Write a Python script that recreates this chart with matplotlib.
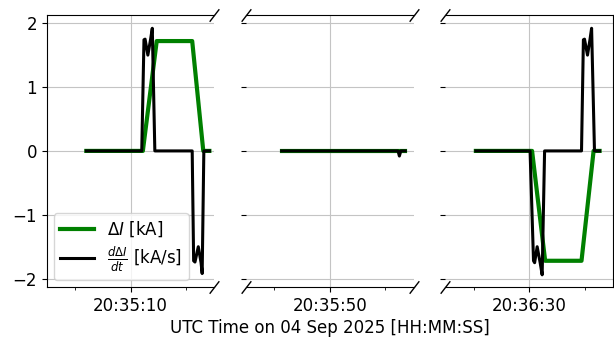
import pandas as pd
import numpy as np
import matplotlib
matplotlib.use('Agg')
import matplotlib.pyplot as plt
import matplotlib.dates as mdates

day = "2025-09-04 "

# panel centres (major ticks)
centers = ["20:35:10", "20:35:50", "20:36:30"]

# delta I [kA]
dI_t = [
    ["20:35:06.0", "20:35:11.1", "20:35:12.35", "20:35:15.55", "20:35:16.55", "20:35:17.1"],
    ["20:35:45.65", "20:35:56.8"],
    ["20:36:25.2", "20:36:30.27", "20:36:31.45", "20:36:34.73", "20:36:35.82", "20:36:36.36"],
]
dI_v = [
    [0, 0, 1.72, 1.72, 0, 0],
    [0, 0],
    [0, 0, -1.72, -1.72, 0, 0],
]

# d(delta I)/dt [kA/s]
dIdt_t = [
    ["20:35:06.0", "20:35:11.0", "20:35:11.2", "20:35:11.3", "20:35:11.55", "20:35:11.8", "20:35:11.95",
     "20:35:12.18", "20:35:15.55", "20:35:15.68", "20:35:15.8", "20:35:16.1", "20:35:16.35", "20:35:16.45",
     "20:35:16.6", "20:35:17.1"],
    ["20:35:45.65", "20:35:56.15", "20:35:56.27", "20:35:56.4", "20:35:56.8"],
    ["20:36:25.2", "20:36:30.09", "20:36:30.4", "20:36:30.5", "20:36:30.73", "20:36:31.0", "20:36:31.18",
     "20:36:31.4", "20:36:34.73", "20:36:34.9", "20:36:35.0", "20:36:35.27", "20:36:35.5", "20:36:35.64",
     "20:36:35.9", "20:36:36.36"],
]
dIdt_v = [
    [0, 0, 1.74, 1.75, 1.5, 1.75, 1.92, 0, 0, -1.72, -1.74, -1.5, -1.75, -1.92, 0, 0],
    [0, 0, -0.08, 0, 0],
    [0, 0, -1.72, -1.75, -1.5, -1.75, -1.94, 0, 0, 1.74, 1.75, 1.5, 1.75, 1.92, 0, 0],
]

plt.rcParams['font.size'] = 12

fig, axes = plt.subplots(1, 3, sharey=True, figsize=(6.14, 3.38), dpi=100)
fig.subplots_adjust(left=0.0765, right=0.998, top=0.956, bottom=0.151, wspace=0.19)

half = pd.Timedelta(seconds=7.55)
five = pd.Timedelta(seconds=5)
d = 1.3
kw = dict(marker=[(-1, -d), (1, d)], markersize=9, linestyle='none',
          color='k', mec='k', mew=1, clip_on=False)

for i, ax in enumerate(axes):
    c = pd.to_datetime(day + centers[i])
    t_a = pd.to_datetime([day + s for s in dI_t[i]])
    t_b = pd.to_datetime([day + s for s in dIdt_t[i]])
    ax.plot(t_a, dI_v[i], color='green', lw=3, label=r'$\Delta I$ [kA]')
    ax.plot(t_b, dIdt_v[i], color='black', lw=2.2, label=r'$\frac{d\Delta I}{dt}$ [kA/s]')
    ax.set_xlim(c - half, c + half)
    ax.set_xticks([c])
    ax.set_xticks([c - five, c + five], minor=True)
    ax.xaxis.set_major_formatter(mdates.DateFormatter('%H:%M:%S'))
    ax.grid(True, color='#c4c4c4')
    if i > 0:
        ax.spines['left'].set_visible(False)
        ax.plot([0, 0], [0, 1], transform=ax.transAxes, **kw)
    if i < 2:
        ax.spines['right'].set_visible(False)
        ax.plot([1, 1], [0, 1], transform=ax.transAxes, **kw)

axes[0].set_ylim(-2.13, 2.13)
axes[0].set_yticks([-2, -1, 0, 1, 2])
axes[0].legend(loc='lower left', labelspacing=0.3, borderaxespad=0.4)

fig.text(330 / 614, 0.003, 'UTC Time on 04 Sep 2025 [HH:MM:SS]', ha='center', va='bottom')

plt.savefig('out.png', dpi=100)
